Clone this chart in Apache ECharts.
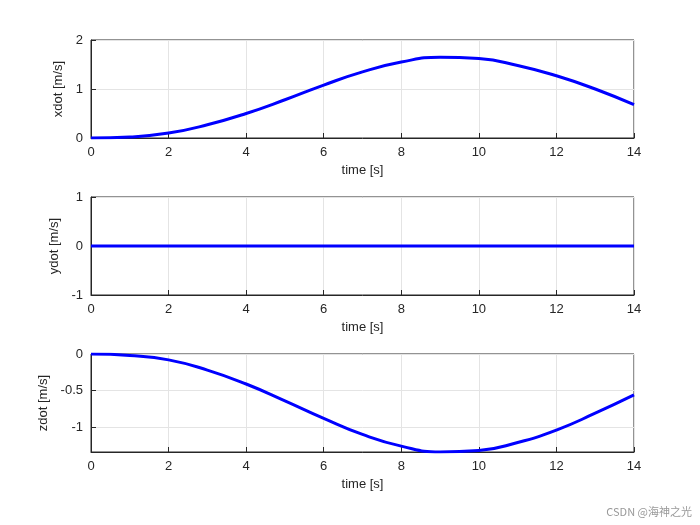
<!DOCTYPE html>
<html><head><meta charset="utf-8">
<script src="https://cdn.jsdelivr.net/npm/echarts@6/dist/echarts.min.js"></script>
<style>html,body{margin:0;background:#fff}#main{width:700px;height:525px}</style>
</head><body><div id="main"></div>
<script>
var time = [0,1,2,3,4,5,6,7,8,9,10,11,12,13,14];
var xdot = [0,0.02,0.1,0.27,0.5,0.78,1.08,1.35,1.55,1.65,1.62,1.48,1.27,1.0,0.68];
var ydot = [0,0,0,0,0,0,0,0,0,0,0,0,0,0,0];
var zdot = [0,-0.02,-0.08,-0.22,-0.41,-0.64,-0.88,-1.1,-1.26,-1.34,-1.32,-1.21,-1.04,-0.81,-0.56];
var zTicks = [-1, -0.5, 0];

var myChart = echarts.init(document.getElementById('main'));
var tops = [40, 197, 354];
var yCfg = [
  {min: 0, max: 2, interval: 1, name: 'xdot [m/s]'},
  {min: -1, max: 1, interval: 1, name: 'ydot [m/s]'},
  {min: -1.34, max: 0, name: 'zdot [m/s]'}
];
var series = [xdot, ydot, zdot];
var font = {color: '#262626', fontSize: 13, fontFamily: 'Liberation Sans'};
var line = {onZero: false, lineStyle: {color: '#262626'}};
var grids = [], xAxes = [], yAxes = [], ser = [];
for (var i = 0; i < 3; i++) {
  grids.push({left: 91, width: 543, top: tops[i], height: 98, show: true, borderColor: '#262626', borderWidth: 1});
  xAxes.push({gridIndex: i, type: 'value', min: 0, max: 14, interval: 2,
    name: 'time [s]', nameLocation: 'middle', nameGap: 26, nameTextStyle: font,
    axisLabel: font, axisLine: line, axisTick: {inside: true, lineStyle: {color: '#262626'}},
    splitLine: {lineStyle: {color: '#e4e4e4'}}});
  var yc = yCfg[i];
  var ya = {gridIndex: i, type: 'value', min: yc.min, max: yc.max,
    name: yc.name, nameLocation: 'middle', nameGap: i == 2 ? 38 : 24, nameTextStyle: font,
    axisLabel: Object.assign({}, font), axisLine: line,
    axisTick: {inside: true, lineStyle: {color: '#262626'}},
    splitLine: {lineStyle: {color: '#e4e4e4'}}};
  if (yc.interval) ya.interval = yc.interval;
  else {
    ya.axisLabel.customValues = zTicks;
    ya.axisTick.customValues = zTicks;
  }
  yAxes.push(ya);
  ser.push({type: 'line', xAxisIndex: i, yAxisIndex: i, smooth: true, symbol: 'none',
    lineStyle: {color: '#0000ff', width: 3},
    data: time.map(function(t, k){ return [t, series[i][k]]; })});
}
myChart.setOption({
  animation: false,
  grid: grids, xAxis: xAxes, yAxis: yAxes, series: ser,
  graphic: [{type: 'text', right: 8, bottom: 8, style: {text: 'CSDN @海神之光', fill: '#999', fontSize: 11, fontFamily: 'Noto Sans CJK SC'}}]
});
</script></body></html>
